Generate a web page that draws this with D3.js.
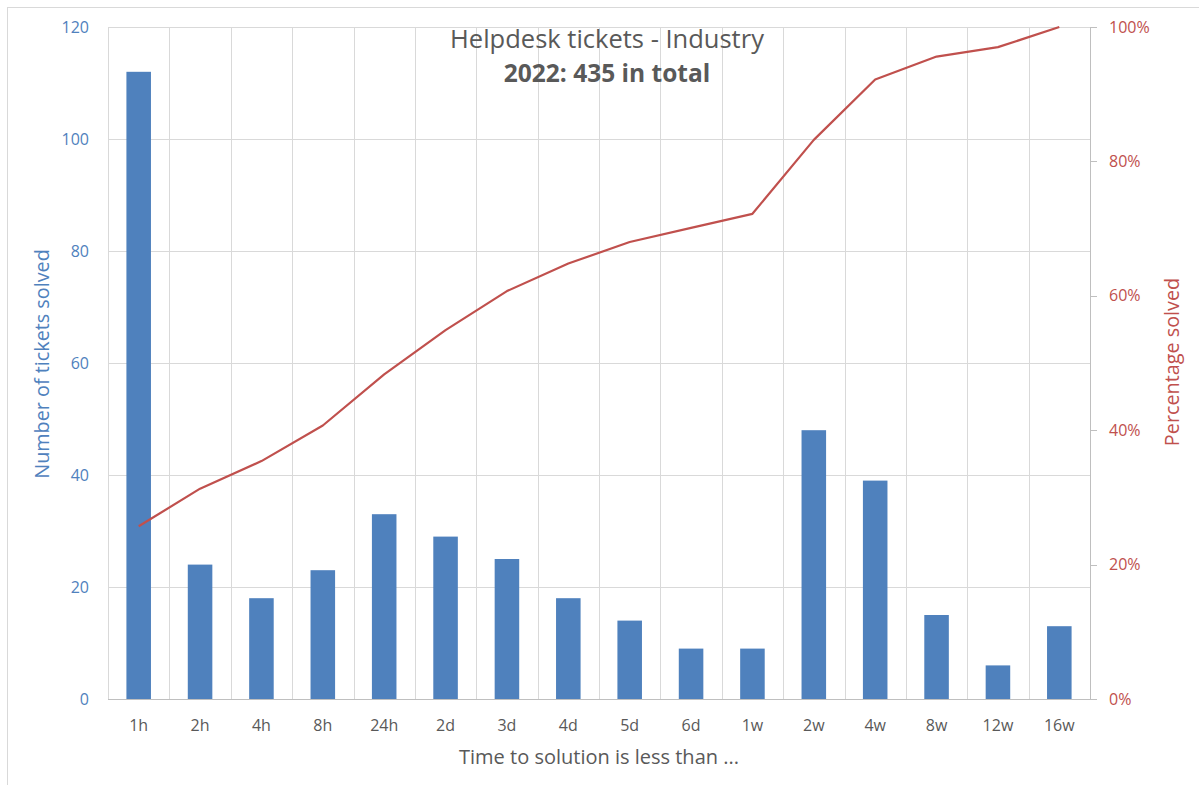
<!DOCTYPE html>
<html>
<head>
<meta charset="utf-8">
<script src="https://cdn.jsdelivr.net/npm/d3@7"></script>
<style>
  body { margin: 0; background: #fff; }
  text { font-family: "Open Sans", "Noto Sans", sans-serif; }
</style>
</head>
<body>
<svg id="chart" width="1199" height="785"></svg>
<script>
// categories and values
const categories = ["1h", "2h", "4h", "8h", "24h", "2d", "3d", "4d", "5d", "6d", "1w", "2w", "4w", "8w", "12w", "16w"];
const tickets = [112, 24, 18, 23, 33, 29, 25, 18, 14, 9, 9, 48, 39, 15, 6, 13];
const pctSolved = [25.7, 31.3, 35.4, 40.7, 48.3, 54.9, 60.7, 64.8, 68.0, 70.1, 72.2, 83.2, 92.2, 95.6, 97.0, 100];
const leftTicks = [0, 20, 40, 60, 80, 100, 120];
const rightTicks = [0, 20, 40, 60, 80, 100];

const BLUE = "#4f81bd";
const RED = "#c0504d";
const GREY = "#595959";

const margin = { top: 27, right: 109, bottom: 86, left: 108 };
const width = 1199 - margin.left - margin.right;
const height = 785 - margin.top - margin.bottom;

const svg = d3.select("#chart");

// outer chart frame
svg.append("rect")
  .attr("x", 7.5).attr("y", 7.5)
  .attr("width", 1199).attr("height", 800)
  .attr("fill", "none")
  .attr("stroke", "#d9d9d9");

const g = svg.append("g")
  .attr("transform", `translate(${margin.left},${margin.top})`);

const x = d3.scaleBand()
  .domain(categories)
  .range([0, width])
  .paddingInner(0.6)
  .paddingOuter(0.3);

const xGrid = d3.scaleBand().domain(categories).range([0, width]);

const yLeft = d3.scaleLinear().domain([0, 120]).range([height, 0]);
const yRight = d3.scaleLinear().domain([0, 100]).range([height, 0]);

// gridlines
g.append("g")
  .selectAll("line.h")
  .data(leftTicks)
  .join("line")
  .attr("x1", 0).attr("x2", width)
  .attr("y1", d => Math.round(yLeft(d)) + 0.5)
  .attr("y2", d => Math.round(yLeft(d)) + 0.5)
  .attr("stroke", "#d9d9d9");

g.append("g")
  .selectAll("line.v")
  .data(categories)
  .join("line")
  .attr("x1", d => Math.round(xGrid(d)) + 0.5)
  .attr("x2", d => Math.round(xGrid(d)) + 0.5)
  .attr("y1", 0).attr("y2", height)
  .attr("stroke", "#d9d9d9");

// bars
g.append("g")
  .selectAll("rect")
  .data(tickets)
  .join("rect")
  .attr("x", (d, i) => x(categories[i]))
  .attr("y", d => yLeft(d))
  .attr("width", x.bandwidth())
  .attr("height", d => height - yLeft(d))
  .attr("fill", BLUE);

// axis lines
g.append("line")
  .attr("x1", 0).attr("x2", width)
  .attr("y1", height + 0.5).attr("y2", height + 0.5)
  .attr("stroke", "#bfbfbf");

g.append("line")
  .attr("x1", width + 0.5).attr("x2", width + 0.5)
  .attr("y1", 0).attr("y2", height)
  .attr("stroke", "#bfbfbf");

g.append("line")
  .attr("x1", 0.5).attr("x2", 0.5)
  .attr("y1", 0).attr("y2", height)
  .attr("stroke", "#d9d9d9");

// right axis tick marks
g.append("g")
  .selectAll("line")
  .data(rightTicks)
  .join("line")
  .attr("x1", width).attr("x2", width + 7)
  .attr("y1", d => Math.round(yRight(d)) + 0.5)
  .attr("y2", d => Math.round(yRight(d)) + 0.5)
  .attr("stroke", "#bfbfbf");

// cumulative line
const line = d3.line()
  .x((d, i) => x(categories[i]) + x.bandwidth() / 2)
  .y(d => yRight(d));

g.append("path")
  .datum(pctSolved)
  .attr("d", line)
  .attr("fill", "none")
  .attr("stroke", RED)
  .attr("stroke-width", 2.2)
  .attr("stroke-linejoin", "round");

// tick labels
g.append("g")
  .selectAll("text")
  .data(leftTicks)
  .join("text")
  .attr("x", -19)
  .attr("y", d => yLeft(d))
  .attr("dy", "0.35em")
  .attr("text-anchor", "end")
  .attr("font-size", 16)
  .attr("fill", BLUE)
  .text(d => d);

g.append("g")
  .selectAll("text")
  .data(rightTicks)
  .join("text")
  .attr("x", width + 19)
  .attr("y", d => yRight(d))
  .attr("dy", "0.35em")
  .attr("text-anchor", "start")
  .attr("font-size", 16)
  .attr("fill", RED)
  .text(d => d + "%");

g.append("g")
  .selectAll("text")
  .data(categories)
  .join("text")
  .attr("x", d => x(d) + x.bandwidth() / 2)
  .attr("y", height + 26)
  .attr("dy", "0.35em")
  .attr("text-anchor", "middle")
  .attr("font-size", 16)
  .attr("fill", GREY)
  .text(d => d);

// axis titles
svg.append("text")
  .attr("x", 599)
  .attr("y", 757)
  .attr("dy", "0.35em")
  .attr("text-anchor", "middle")
  .attr("font-size", 20)
  .attr("fill", GREY)
  .text("Time to solution is less than ...");

svg.append("text")
  .attr("transform", "translate(42,364) rotate(-90)")
  .attr("dy", "0.35em")
  .attr("text-anchor", "middle")
  .attr("font-size", 19.8)
  .attr("fill", BLUE)
  .text("Number of tickets solved");

svg.append("text")
  .attr("transform", "translate(1172,362) rotate(-90)")
  .attr("dy", "0.35em")
  .attr("text-anchor", "middle")
  .attr("font-size", 19.8)
  .attr("fill", RED)
  .text("Percentage solved");

// title
svg.append("text")
  .attr("x", 607)
  .attr("y", 48)
  .attr("text-anchor", "middle")
  .attr("font-size", 25.5)
  .attr("fill", GREY)
  .text("Helpdesk tickets - Industry");

svg.append("text")
  .attr("x", 607)
  .attr("y", 82)
  .attr("text-anchor", "middle")
  .attr("font-size", 24.5)
  .attr("font-weight", "bold")
  .attr("fill", GREY)
  .text("2022: 435 in total");
</script>
</body>
</html>
